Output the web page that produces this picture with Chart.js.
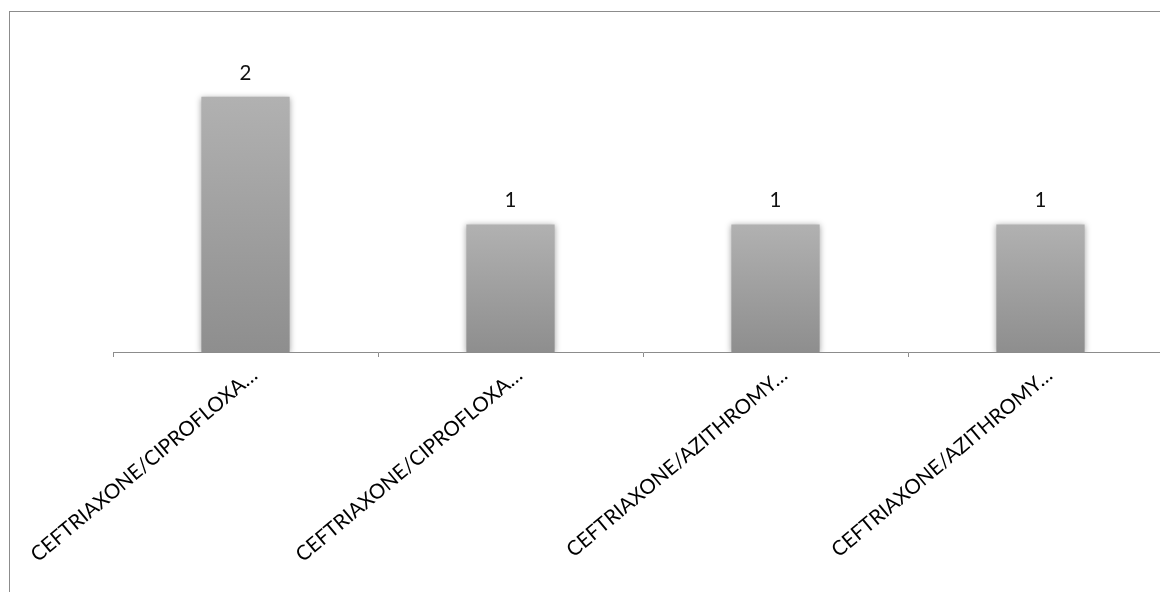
<!DOCTYPE html>
<html>
<head>
<meta charset="utf-8">
<script src="https://cdn.jsdelivr.net/npm/chart.js@4/dist/chart.umd.min.js"></script>
<style>
  html, body { margin: 0; padding: 0; background: #fff; overflow: hidden; width: 1160px; height: 592px; }
  #frame { position: absolute; left: 9px; top: 11px; border: 1px solid #8c8c8c; width: 1200px; height: 620px; background: #fff; }
  #chart { position: absolute; left: 0; top: 0; }
</style>
</head>
<body>
<div id="frame"><canvas id="chart" width="1170" height="600"></canvas></div>
<script>
// Treatment combinations and number of cases
const categories = [
  "CEFTRIAXONE/CIPROFLOXA…",
  "CEFTRIAXONE/CIPROFLOXA…",
  "CEFTRIAXONE/AZITHROMY…",
  "CEFTRIAXONE/AZITHROMY…"
];
const counts = [2, 1, 1, 1];

const FONT = "Lato, 'Noto Sans', sans-serif";

// Vertical grey gradient per bar, lighter at the top
function barGradient(context) {
  const chart = context.chart;
  const area = chart.chartArea;
  if (!area) return "#a0a0a0";
  const v = context.parsed ? context.parsed.y : context.raw;
  const y = chart.scales.y;
  const top = y.getPixelForValue(v);
  const base = y.getPixelForValue(0);
  const g = chart.ctx.createLinearGradient(0, top, 0, base);
  g.addColorStop(0, "#b1b1b1");
  g.addColorStop(1, "#8e8e8e");
  return g;
}

// Soft shadow around the bars
const barShadow = {
  id: "barShadow",
  beforeDatasetsDraw(chart) {
    const ctx = chart.ctx;
    ctx.save();
    ctx.shadowColor = "rgba(0,0,0,0.35)";
    ctx.shadowBlur = 6;
    ctx.shadowOffsetX = 0;
    ctx.shadowOffsetY = 1;
  },
  afterDatasetsDraw(chart) {
    chart.ctx.restore();
  }
};

// Value written above each bar
const valueLabels = {
  id: "valueLabels",
  afterDatasetsDraw(chart) {
    const ctx = chart.ctx;
    const meta = chart.getDatasetMeta(0);
    ctx.save();
    ctx.font = "20.5px " + FONT;
    ctx.fillStyle = "#111111";
    ctx.textAlign = "center";
    ctx.textBaseline = "alphabetic";
    meta.data.forEach((bar, i) => {
      const v = chart.data.datasets[0].data[i];
      ctx.fillText(String(v), bar.x, bar.y - 17);
    });
    ctx.restore();
  }
};

new Chart(document.getElementById("chart"), {
  type: "bar",
  data: {
    labels: categories,
    datasets: [{
      data: counts,
      backgroundColor: barGradient,
      borderWidth: 0,
      categoryPercentage: 1,
      barPercentage: 0.333
    }]
  },
  options: {
    responsive: false,
    animation: false,
    devicePixelRatio: 1,
    layout: { padding: { left: 103, right: 7, top: 21, bottom: 0 } },
    plugins: {
      legend: { display: false },
      tooltip: { enabled: false }
    },
    scales: {
      x: {
        offset: true,
        grid: {
          display: true,
          offset: true,
          drawOnChartArea: false,
          drawTicks: true,
          tickLength: 5,
          color: "#8c8c8c",
          lineWidth: 1
        },
        border: { display: true, color: "#8c8c8c", width: 1 },
        ticks: {
          autoSkip: false,
          minRotation: 40,
          maxRotation: 40,
          padding: 6,
          labelOffset: 9,
          color: "#000000",
          font: { family: FONT, size: 20.5 }
        },
        afterFit(scale) {
          scale.height = 260;
          // the plot keeps its fixed left edge; long labels may run into the margin
          scale.paddingLeft = 0;
          scale.paddingRight = 0;
        }
      },
      y: {
        display: false,
        min: 0,
        max: 2.5
      }
    }
  },
  plugins: [barShadow, valueLabels]
});
</script>
</body>
</html>
